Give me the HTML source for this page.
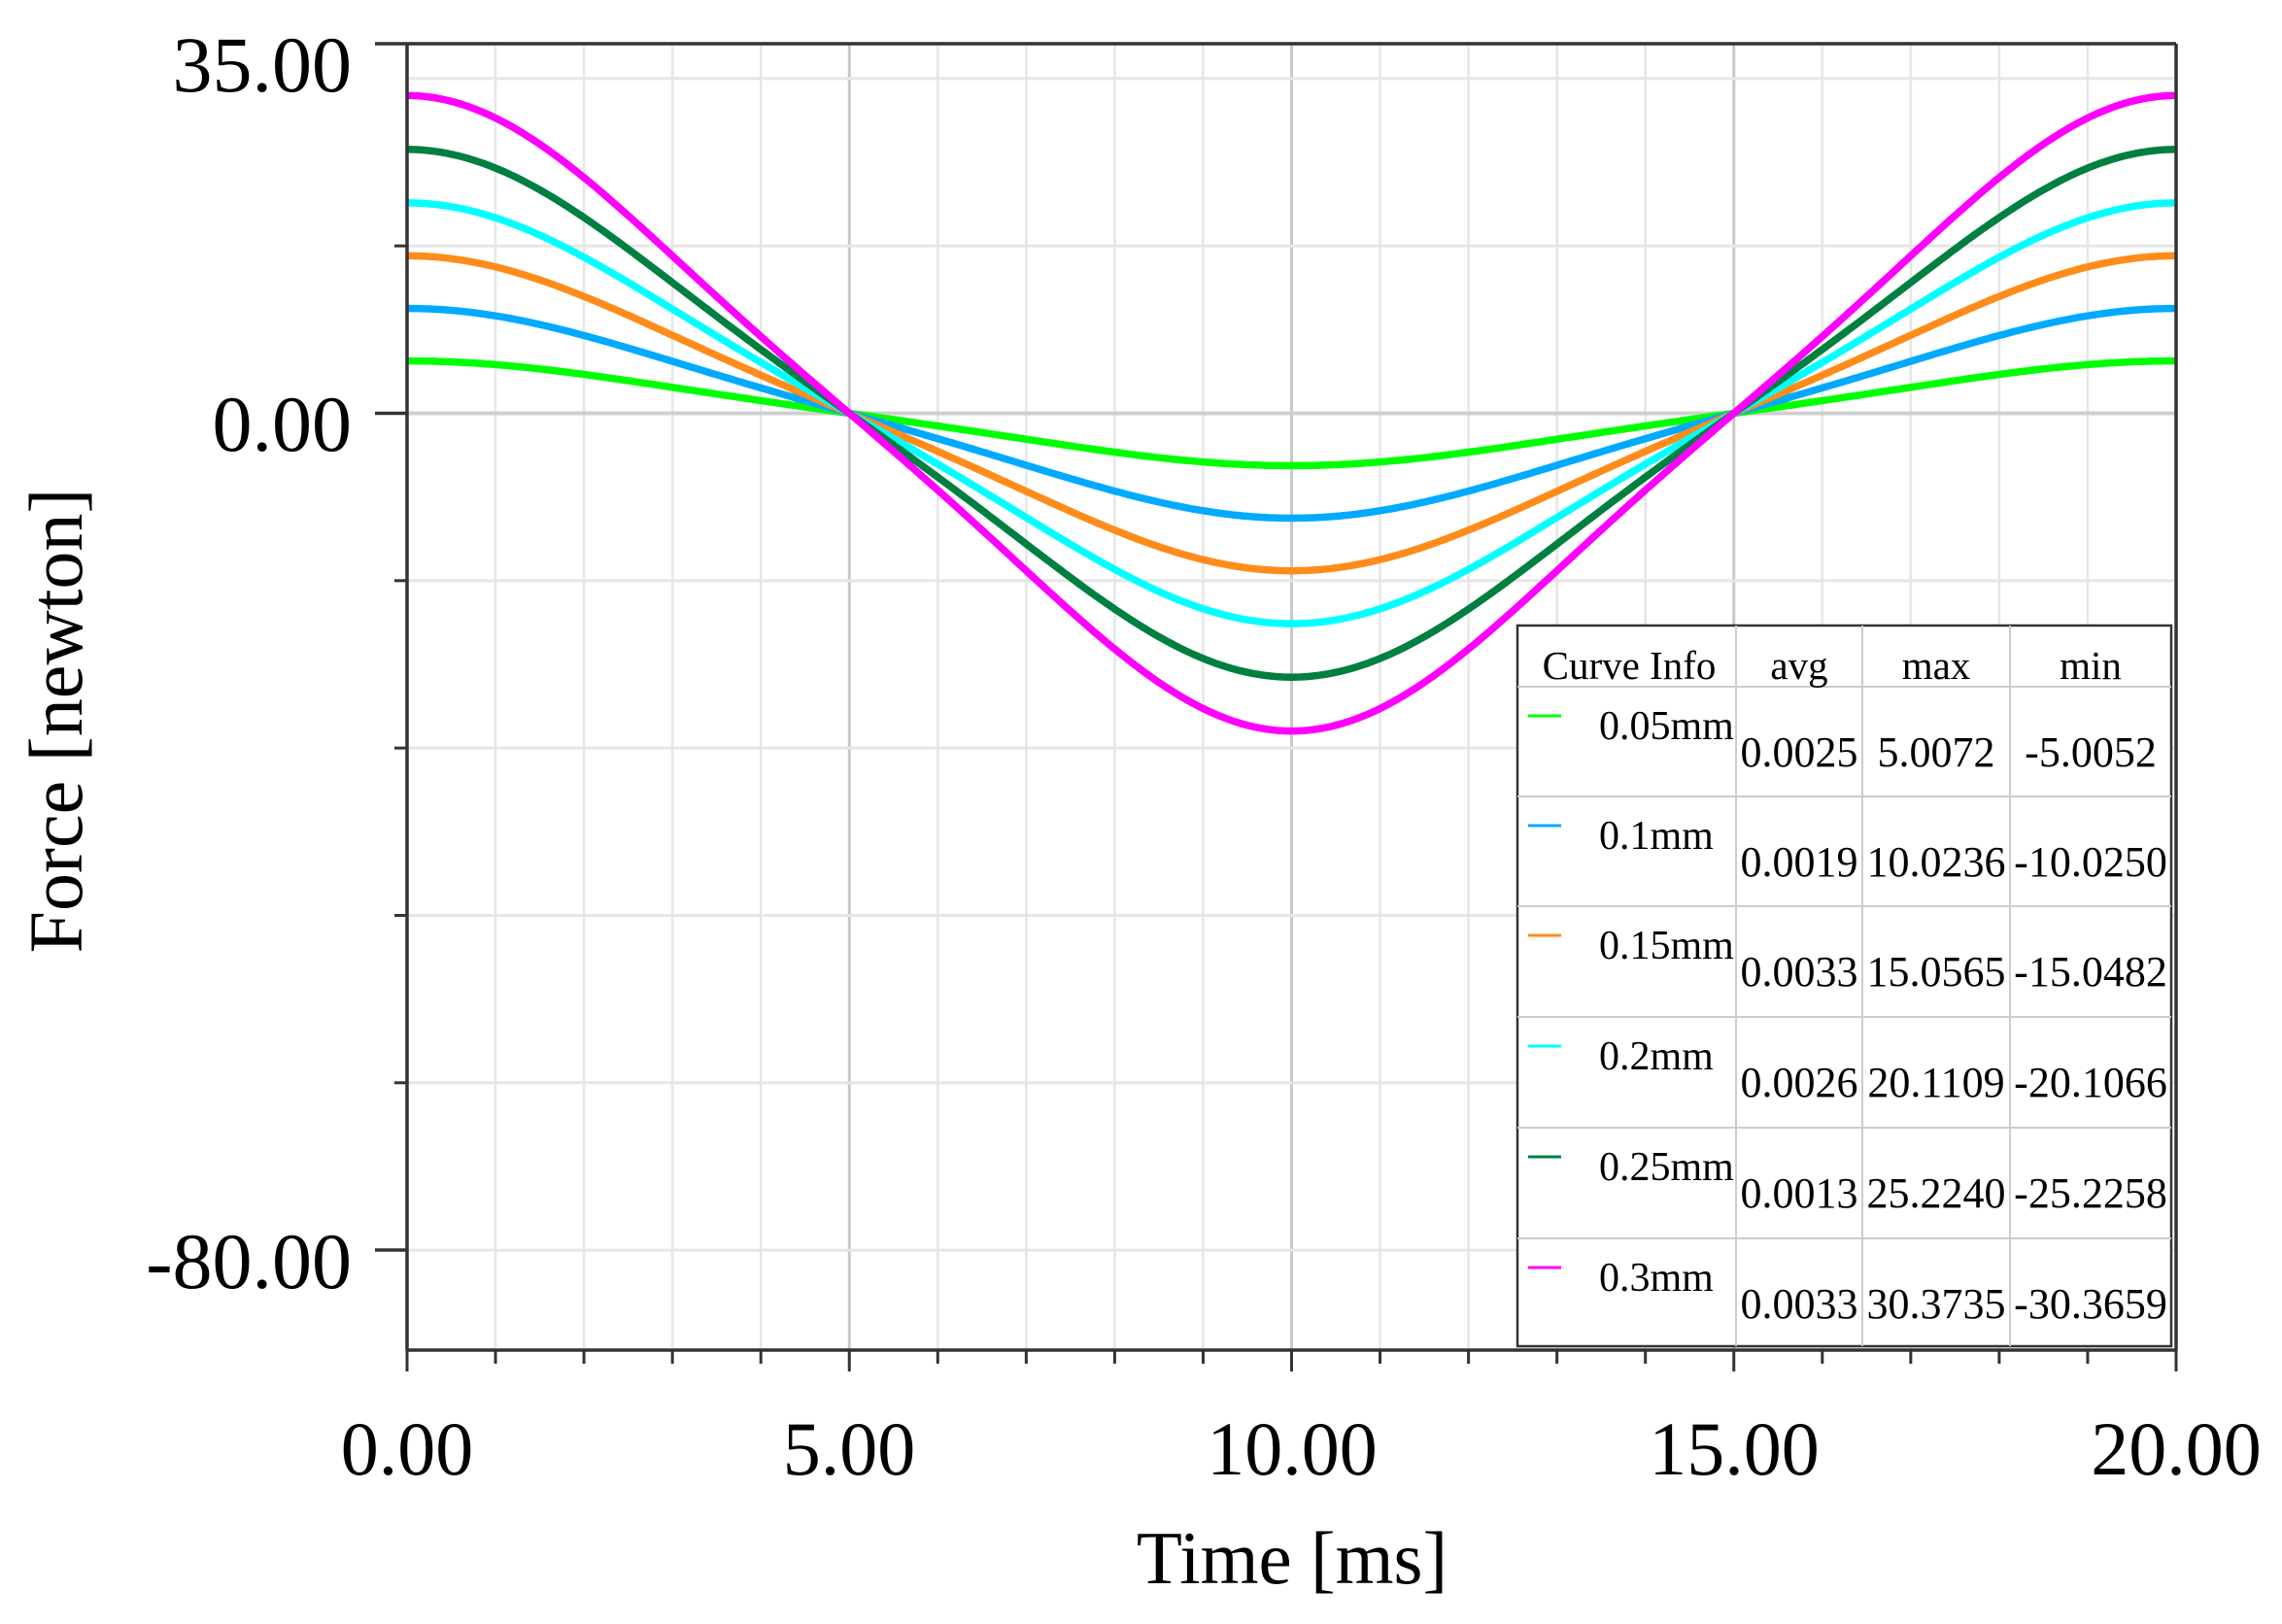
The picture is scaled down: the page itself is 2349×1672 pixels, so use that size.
<!DOCTYPE html>
<html><head><meta charset="utf-8"><style>
html,body{margin:0;padding:0;background:#fff;}
svg{display:block;}
text{font-family:"Liberation Serif",serif;fill:#000;}
</style></head><body>
<svg id="s" width="2349" height="1672" viewBox="0 0 2349 1672" xmlns="http://www.w3.org/2000/svg">
<rect width="2349" height="1672" fill="#fff"/>
<g id="grid"></g>
<g id="curves" fill="none" stroke-width="7.5" stroke-linejoin="round"></g>
<g stroke="#333" stroke-width="3.5" fill="none">
<line x1="419" y1="45" x2="2240" y2="45"/>
<line x1="419" y1="1390" x2="2240" y2="1390"/>
<line x1="419" y1="45" x2="419" y2="1390"/>
<line x1="2240" y1="45" x2="2240" y2="1390"/>
<line x1="386" y1="45" x2="419" y2="45"/>
<line x1="386" y1="425.5" x2="419" y2="425.5"/>
<line x1="386" y1="1287" x2="419" y2="1287"/>
</g>
<g id="ticks" stroke="#333" stroke-width="3"></g>
<g font-size="82" text-anchor="end">
<text x="362" y="94">35.00</text>
<text x="362" y="464">0.00</text>
<text x="362" y="1326">-80.00</text>
</g>
<g font-size="78" text-anchor="middle">
<text x="419" y="1518">0.00</text>
<text x="874" y="1518">5.00</text>
<text x="1330" y="1518">10.00</text>
<text x="1785" y="1518">15.00</text>
<text x="2240" y="1518">20.00</text>
</g>
<text x="1330" y="1630" font-size="77" text-anchor="middle">Time [ms]</text>
<text transform="translate(84,742) rotate(-90)" font-size="78" text-anchor="middle">Force [newton]</text>
<g id="legend"></g>
</svg>
<script>
var NS="http://www.w3.org/2000/svg";
function el(p,n,a,t){var e=document.createElementNS(NS,n);for(var k in a)e.setAttribute(k,a[k]);if(t!==undefined)e.textContent=t;p.appendChild(e);return e;}
var X0=419,X1=2240,Y0=425.5,K=10.77;
function xs(t){return X0+(X1-X0)*t/20;}
function ys(v){return Y0-v*K;}
var g=document.getElementById('grid');
for(var i=1;i<20;i++){var x=xs(i);el(g,'line',{x1:x,y1:45,x2:x,y2:1390,stroke:(i%5==0)?'#c8c8c8':'#e6e6e6','stroke-width':(i%5==0)?3:2.5});}
[32,16,0,-16,-32,-48,-64,-80].forEach(function(v){var y=ys(v);el(g,'line',{x1:X0,y1:y,x2:X1,y2:y,stroke:v==0?'#cfcfcf':'#e6e6e6','stroke-width':v==0?4:3});});
var tk=document.getElementById('ticks');
for(var i=0;i<=20;i++){var x=xs(i);el(tk,'line',{x1:x,y1:1390,x2:x,y2:i%5==0?1412:1404});}
[16,-16,-32,-48,-64].forEach(function(v){el(tk,'line',{x1:406,y1:ys(v),x2:419,y2:ys(v)});});
var series=[[5.0072,'#00ff00'],[10.0236,'#00aaff'],[15.0565,'#ff8c1a'],[20.1109,'#00ffff'],[25.224,'#008040'],[30.3735,'#ff00ff']];
var c=document.getElementById('curves');
series.forEach(function(s){var d='';for(var i=0;i<=400;i++){var t=i*20/400;var th=2*Math.PI*t/20;var v=s[0]*(0.94*Math.cos(th)+0.06*Math.cos(3*th));var x=xs(t),y=ys(v);d+=(i?'L':'M')+x.toFixed(1)+' '+y.toFixed(1);}el(c,'path',{d:d,stroke:s[1]});});
var L=document.getElementById('legend');
el(L,'rect',{x:1562,y:644,width:673,height:742,fill:'#fff',stroke:'#333','stroke-width':2.5});
[1787,1917,2069].forEach(function(x){el(L,'line',{x1:x,y1:644,x2:x,y2:1386,stroke:'#ccc','stroke-width':2});});
var rows=[707,820,933,1047,1161,1275];
rows.forEach(function(y){el(L,'line',{x1:1562,y1:y,x2:2235,y2:y,stroke:'#ccc','stroke-width':2});});
var hdr=[['Curve Info',1677],['avg',1852],['max',1993],['min',2152]];
hdr.forEach(function(h){el(L,'text',{x:h[1],y:699,'font-size':41,'text-anchor':'middle'},h[0]);});
var data=[['0.05mm','0.0025','5.0072','-5.0052'],['0.1mm','0.0019','10.0236','-10.0250'],['0.15mm','0.0033','15.0565','-15.0482'],['0.2mm','0.0026','20.1109','-20.1066'],['0.25mm','0.0013','25.2240','-25.2258'],['0.3mm','0.0033','30.3735','-30.3659']];
data.forEach(function(r,i){var y=rows[i];el(L,'line',{x1:1573,y1:y+30,x2:1607,y2:y+30,stroke:series[i][1],'stroke-width':3});
el(L,'text',{x:1646,y:y+54,'font-size':42},r[0]);
el(L,'text',{x:1852,y:y+82,'font-size':44,'text-anchor':'middle'},r[1]);
el(L,'text',{x:1993,y:y+82,'font-size':44,'text-anchor':'middle'},r[2]);
el(L,'text',{x:2152,y:y+82,'font-size':44,'text-anchor':'middle'},r[3]);});
</script>
</body></html>
